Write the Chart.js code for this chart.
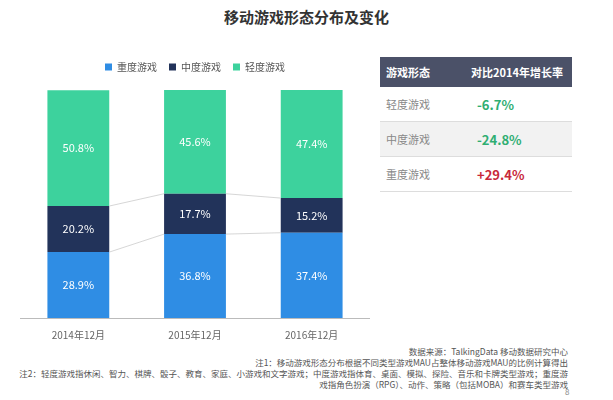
<!DOCTYPE html>
<html><head><meta charset="utf-8">
<script src="https://cdn.jsdelivr.net/npm/chart.js@4/dist/chart.umd.min.js"></script>
<style>
body{margin:0;width:613px;height:400px;background:#fff;font-family:"Noto Sans CJK SC",sans-serif;position:relative;overflow:hidden}
#title{position:absolute;top:6px;left:0;width:613px;text-align:center;font-size:15px;font-weight:bold;color:#333}
#wrap{position:absolute;left:20px;top:50px;width:350px;height:294px}
table{position:absolute;left:380px;top:57px;width:192px;border-collapse:collapse;font-size:11px}
th{background:#4b5168;color:#fff;height:28px;font-weight:bold;text-align:left;padding-left:6px}
td{height:32px;border-bottom:1px solid #ddd;color:#888;padding-left:6px}
td.v{font-weight:bold;font-size:13px;padding-left:12px}
.notes{position:absolute;right:45px;top:346px;text-align:right;font-size:8.5px;color:#555;line-height:11px;width:600px;white-space:nowrap}
</style></head><body>
<div id="title">移动游戏形态分布及变化</div>
<div id="wrap"><canvas id="c"></canvas></div>
<table>
<tr><th style="width:78px">游戏形态</th><th>对比2014年增长率</th></tr>
<tr><td>轻度游戏</td><td class="v" style="color:#2fae72">-6.7%</td></tr>
<tr style="background:#f2f2f2"><td>中度游戏</td><td class="v" style="color:#2fae72">-24.8%</td></tr>
<tr><td>重度游戏</td><td class="v" style="color:#c8283a">+29.4%</td></tr>
</table>
<div class="notes">数据来源：TalkingData 移动数据研究中心<br>注1：移动游戏形态分布根据不同类型游戏MAU占整体移动游戏MAU的比例计算得出<br>注2：轻度游戏指休闲、智力、棋牌、骰子、教育、家庭、小游戏和文字游戏；中度游戏指体育、桌面、模拟、探险、音乐和卡牌类型游戏；重度游<br>戏指角色扮演（RPG）、动作、策略（包括MOBA）和赛车类型游戏</div>
<div style="position:absolute;left:565px;top:386px;font-size:8px;color:#888">8</div>
<script>
const categories=["2014年12月","2015年12月","2016年12月"];
const heavy=[28.9,36.8,37.4];
const medium=[20.2,17.7,15.2];
const light=[50.8,45.6,47.4];
const connectors={id:'conn',afterDatasetsDraw(ch){
 const c=ch.ctx;c.save();c.strokeStyle='#ccc';c.lineWidth=0.8;
 const m0=ch.getDatasetMeta(0).data,m1=ch.getDatasetMeta(1).data;
 for(let i=0;i<m0.length-1;i++){
  [m0,m1].forEach(m=>{
   const a=m[i],b=m[i+1];
   c.beginPath();c.moveTo(a.x+a.width/2,a.y);c.lineTo(b.x-b.width/2,b.y);c.stroke();});
 }
 c.restore();}};
const labels={id:'lbl',afterDatasetsDraw(ch){
 const c=ch.ctx;c.save();c.fillStyle='#fff';c.font='11px "Noto Sans CJK SC"';c.textAlign='center';c.textBaseline='middle';
 ch.data.datasets.forEach((ds,di)=>{ch.getDatasetMeta(di).data.forEach((el,i)=>{
  c.fillText(ds.data[i].toFixed(1)+'%',el.x,(el.y+el.base)/2);});});
 c.restore();}};
new Chart(document.getElementById('c'),{type:'bar',
 data:{labels:categories,datasets:[
  {label:'重度游戏',data:heavy,backgroundColor:'#2f8de4'},
  {label:'中度游戏',data:medium,backgroundColor:'#22335a'},
  {label:'轻度游戏',data:light,backgroundColor:'#3dd29d'}]},
 options:{responsive:true,maintainAspectRatio:false,animation:false,
  plugins:{legend:{position:'top',labels:{boxWidth:7,boxHeight:7,font:{size:10,family:'Noto Sans CJK SC'},color:'#555',padding:12}},tooltip:{enabled:false}},
  datasets:{bar:{barPercentage:0.53,categoryPercentage:1}},
  scales:{x:{stacked:true,grid:{display:false},border:{color:'#bbb'},ticks:{color:'#666',font:{size:10,family:'Noto Sans CJK SC'}}},
   y:{stacked:true,display:false,min:0,max:100,afterFit(s){}}}}
 ,plugins:[connectors,labels,{id:'pad',beforeInit(ch){ch.options.layout.padding={top:0};},afterFit(){}},{id:'legendgap',beforeInit(ch){const orig=ch.legend;},afterInit(ch){const l=ch.legend;const f=l.fit;l.fit=function(){f.call(this);this.height+=8;};}}]});
</script>
</body></html>
